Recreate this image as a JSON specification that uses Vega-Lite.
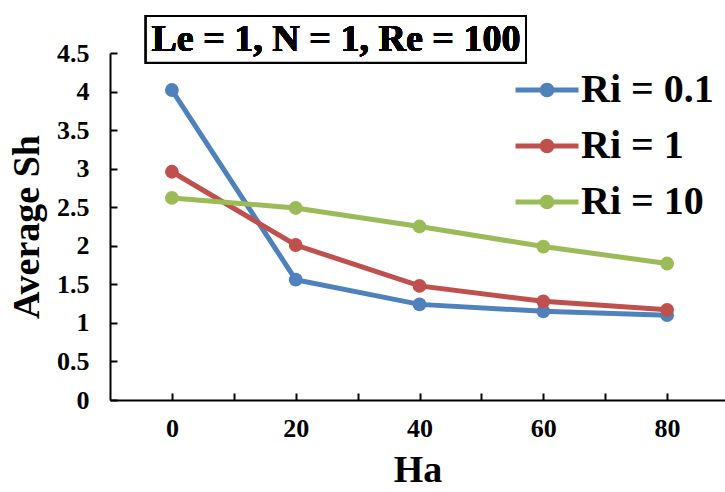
{
  "$schema": "https://vega.github.io/schema/vega-lite/v6.json",
  "width": 615,
  "height": 347,
  "autosize": "none",
  "padding": {"left": 110, "top": 53, "right": 0, "bottom": 92},
  "background": "white",
  "config": {
    "view": {"stroke": null},
    "font": "Liberation Serif",
    "axis": {
      "grid": false,
      "domainColor": "black",
      "domainWidth": 2,
      "tickColor": "black",
      "tickWidth": 2,
      "labelFont": "Liberation Serif",
      "labelFontWeight": "bold",
      "labelColor": "black",
      "labelOverlap": false,
      "titleFont": "Liberation Serif",
      "titleFontWeight": "bold",
      "titleColor": "black"
    }
  },
  "data": {
    "values": [
      {"Ha": 0, "Sh": 4.02, "series": "Ri = 0.1"},
      {"Ha": 20, "Sh": 1.56, "series": "Ri = 0.1"},
      {"Ha": 40, "Sh": 1.24, "series": "Ri = 0.1"},
      {"Ha": 60, "Sh": 1.15, "series": "Ri = 0.1"},
      {"Ha": 80, "Sh": 1.10, "series": "Ri = 0.1"},
      {"Ha": 0, "Sh": 2.96, "series": "Ri = 1"},
      {"Ha": 20, "Sh": 2.01, "series": "Ri = 1"},
      {"Ha": 40, "Sh": 1.48, "series": "Ri = 1"},
      {"Ha": 60, "Sh": 1.28, "series": "Ri = 1"},
      {"Ha": 80, "Sh": 1.17, "series": "Ri = 1"},
      {"Ha": 0, "Sh": 2.62, "series": "Ri = 10"},
      {"Ha": 20, "Sh": 2.49, "series": "Ri = 10"},
      {"Ha": 40, "Sh": 2.25, "series": "Ri = 10"},
      {"Ha": 60, "Sh": 1.99, "series": "Ri = 10"},
      {"Ha": 80, "Sh": 1.77, "series": "Ri = 10"}
    ]
  },
  "encoding": {
    "x": {
      "field": "Ha", "type": "quantitative",
      "scale": {"domain": [-10, 89.35], "nice": false, "zero": false},
      "axis": {
        "title": "Ha",
        "titleFontSize": 38,
        "titlePadding": 10,
        "values": [0, 10, 20, 30, 40, 50, 60, 70, 80],
        "labelExpr": "datum.value % 20 == 0 ? datum.label : ''",
        "labelFontSize": 26,
        "labelPadding": 22,
        "labelOverlap": false,
        "tickSize": -7
      }
    },
    "y": {
      "field": "Sh", "type": "quantitative",
      "scale": {"domain": [0, 4.5], "nice": false, "zero": true},
      "axis": {
        "title": "Average Sh",
        "titleFontSize": 38,
        "titlePadding": 10,
        "values": [0, 0.5, 1, 1.5, 2, 2.5, 3, 3.5, 4, 4.5],
        "format": "~g",
        "labelFontSize": 26,
        "labelPadding": 28,
        "labelOverlap": false,
        "labelFlush": false,
        "labelBound": false,
        "tickSize": -7
      }
    }
  },
  "layer": [
    {
      "mark": {"type": "line", "strokeWidth": 5},
      "encoding": {
        "color": {
          "field": "series", "type": "nominal",
          "scale": {"domain": ["Ri = 0.1", "Ri = 1", "Ri = 10"], "range": ["#4F81BD", "#C0504D", "#9BBB59"]},
          "legend": {
            "title": null,
            "orient": "none",
            "legendX": 417,
            "legendY": 17,
            "symbolType": "M-2.1,0H2.1M-0.15,0A0.15,0.15 0 1,0 0.15,0A0.15,0.15 0 1,0 -0.15,0M-0.32,0A0.32,0.32 0 1,0 0.32,0A0.32,0.32 0 1,0 -0.32,0",
            "symbolSize": 900,
            "symbolStrokeWidth": 5,
            "labelFont": "Liberation Serif",
            "labelFontWeight": "bold",
            "labelFontSize": 40,
            "labelColor": "black",
            "labelOffset": 14,
            "rowPadding": 16,
            "labelLimit": 400
          }
        }
      }
    },
    {
      "mark": {"type": "point", "filled": true, "size": 190, "opacity": 1},
      "encoding": {
        "color": {"field": "series", "type": "nominal", "legend": null}
      }
    },
    {
      "mark": {"type": "rect", "fill": "white", "stroke": "black", "strokeWidth": 2},
      "encoding": {
        "x": {"datum": -4.2},
        "x2": {"datum": 57.2},
        "y": {"datum": 4.98},
        "y2": {"datum": 4.375}
      }
    },
    {
      "mark": {"type": "text", "font": "Liberation Serif", "fontWeight": "bold", "fontSize": 38, "color": "black", "align": "center", "baseline": "middle", "dy": 2},
      "encoding": {
        "x": {"datum": 26.5},
        "y": {"datum": 4.69},
        "text": {"value": "Le = 1, N = 1, Re = 100"}
      }
    }
  ]
}
